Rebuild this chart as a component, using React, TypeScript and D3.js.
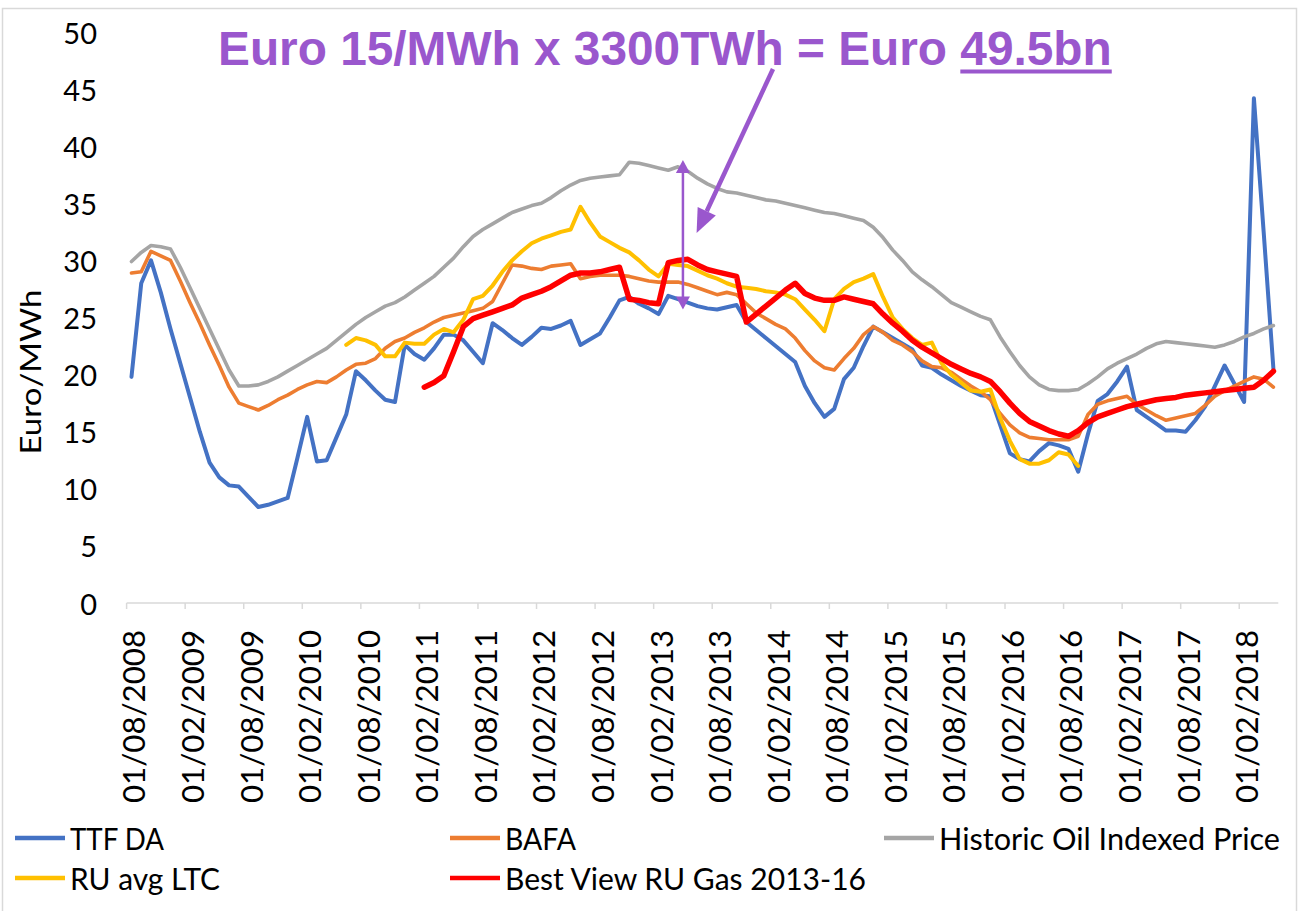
import React, { useEffect, useRef, useState } from 'react';
import * as d3 from 'd3';

// Category axis labels (every 6 months, monthly data starting 01/08/2008)
const tickLabels = [
  '01/08/2008', '01/02/2009', '01/08/2009', '01/02/2010', '01/08/2010',
  '01/02/2011', '01/08/2011', '01/02/2012', '01/08/2012', '01/02/2013',
  '01/08/2013', '01/02/2014', '01/08/2014', '01/02/2015', '01/08/2015',
  '01/02/2016', '01/08/2016', '01/02/2017', '01/08/2017', '01/02/2018',
];
const labelEvery = 6;
const monthCount = 118;
const yTicks = [0, 5, 10, 15, 20, 25, 30, 35, 40, 45, 50];

const ttfDA = [
  19.8, 28.0, 30.0, 27.2, 24.0, 21.0, 18.0, 15.0, 12.3, 11.0,
  10.3, 10.2, 9.3, 8.4, 8.6, 8.9, 9.2, 12.7, 16.3, 12.4,
  12.5, 14.5, 16.5, 20.3, 19.5, 18.6, 17.8, 17.6, 22.6, 21.8,
  21.3, 22.3, 23.5, 23.5, 23.0, 22.0, 21.0, 24.5, 23.9, 23.2,
  22.6, 23.3, 24.1, 24.0, 24.3, 24.7, 22.6, 23.1, 23.6, 25.0,
  26.5, 26.8, 26.2, 25.8, 25.3, 26.9, 26.6, 26.3, 26.0, 25.8,
  25.7, 25.9, 26.1, 24.6, 23.9, 23.2, 22.5, 21.8, 21.1, 19.0,
  17.5, 16.3, 17.0, 19.6, 20.6, 22.5, 24.2, 23.7, 23.2, 22.7,
  22.2, 20.8, 20.6, 20.0, 19.5, 19.0, 18.6, 18.2, 18.1, 15.6,
  13.1, 12.6, 12.4, 13.3, 14.0, 13.8, 13.5, 11.5, 14.8, 17.7,
  18.3, 19.4, 20.7, 16.9, 16.3, 15.7, 15.1, 15.1, 15.0, 16.0,
  17.2, 19.0, 20.8, 19.2, 17.6, 44.2, 32.5, 20.5,
];

const bafa = [
  28.9, 29.0, 30.8, 30.4, 30.0, 28.2, 26.3, 24.5, 22.6, 20.8,
  18.9, 17.5, 17.2, 16.9, 17.3, 17.8, 18.2, 18.7, 19.1, 19.4,
  19.3, 19.8, 20.4, 20.9, 21.0, 21.4, 22.3, 22.9, 23.2, 23.7,
  24.1, 24.6, 25.0, 25.2, 25.4, 25.6, 25.8, 26.4, 28.0, 29.6,
  29.5, 29.3, 29.2, 29.5, 29.6, 29.7, 28.4, 28.6, 28.7, 28.7,
  28.7, 28.6, 28.4, 28.2, 28.1, 28.1, 28.1, 27.9, 27.6, 27.3,
  27.0, 27.2, 27.0, 26.2, 25.4, 24.9, 24.4, 24.0, 23.2, 22.1,
  21.2, 20.6, 20.4, 21.4, 22.3, 23.5, 24.2, 23.7, 23.0, 22.6,
  22.0, 21.2, 20.7, 20.6, 20.2, 19.6, 19.0, 18.5, 17.8, 16.6,
  15.6, 14.9, 14.5, 14.4, 14.3, 14.3, 14.3, 14.6, 16.5, 17.4,
  17.7, 17.9, 18.1, 17.4, 16.9, 16.4, 16.0, 16.2, 16.4, 16.6,
  17.3, 18.1, 18.6, 19.0, 19.4, 19.8, 19.6, 18.9,
];

const oilIndexed = [
  29.9, 30.7, 31.3, 31.2, 31.0, 29.4, 27.6, 25.8, 24.0, 22.2,
  20.4, 19.0, 19.0, 19.1, 19.4, 19.8, 20.3, 20.8, 21.3, 21.8,
  22.3, 23.0, 23.7, 24.4, 25.0, 25.5, 26.0, 26.3, 26.8, 27.4,
  28.0, 28.6, 29.4, 30.2, 31.2, 32.1, 32.7, 33.2, 33.7, 34.2,
  34.5, 34.8, 35.0, 35.5, 36.1, 36.6, 37.0, 37.2, 37.3, 37.4,
  37.5, 38.6, 38.5, 38.3, 38.1, 37.9, 38.2, 37.8, 37.2, 36.7,
  36.3, 36.0, 35.9, 35.7, 35.5, 35.3, 35.2, 35.0, 34.8, 34.6,
  34.4, 34.2, 34.1, 33.9, 33.7, 33.5, 32.9, 32.0, 30.9, 30.0,
  29.0, 28.3, 27.7, 27.0, 26.3, 25.9, 25.5, 25.1, 24.8, 23.3,
  22.0, 20.8, 19.8, 19.1, 18.7, 18.6, 18.6, 18.7, 19.2, 19.8,
  20.5, 21.0, 21.4, 21.8, 22.3, 22.7, 22.9, 22.8, 22.7, 22.6,
  22.5, 22.4, 22.6, 22.9, 23.3, 23.6, 24.0, 24.3,
];

const ruAvgLtcStart = 22;
const ruAvgLtc = [
  22.6, 23.2, 23.0, 22.6, 21.6, 21.6, 22.8, 22.7, 22.7, 23.5,
  24.0, 23.7, 24.8, 26.6, 26.9, 27.8, 29.0, 30.0, 30.8, 31.5,
  31.9, 32.2, 32.5, 32.7, 34.7, 33.3, 32.1, 31.6, 31.1, 30.7,
  30.0, 29.2, 28.6, 29.7, 29.6, 29.5, 29.1, 28.7, 28.4, 28.0,
  27.7, 27.6, 27.5, 27.3, 27.2, 27.0, 26.6, 25.7, 24.8, 23.8,
  26.6, 27.5, 28.1, 28.4, 28.8, 26.8, 25.0, 24.0, 23.2, 22.6,
  22.8, 21.0, 20.0, 19.3, 18.6, 18.5, 18.7, 16.2, 14.2, 12.6,
  12.2, 12.2, 12.5, 13.2, 13.0, 12.0,
];

const bestViewStart = 30;
const bestView = [
  18.9, 19.3, 19.9, 22.0, 24.2, 24.9, 25.2, 25.5, 25.8, 26.1,
  26.7, 27.0, 27.3, 27.7, 28.2, 28.7, 28.9, 28.9, 29.0, 29.2,
  29.4, 26.6, 26.5, 26.3, 26.2, 29.8, 30.0, 30.1, 29.6, 29.2,
  29.0, 28.8, 28.6, 24.6, 25.3, 26.0, 26.7, 27.4, 28.0, 27.1,
  26.7, 26.5, 26.5, 26.8, 26.6, 26.4, 26.2, 25.3, 24.5, 23.8,
  23.0, 22.4, 21.9, 21.4, 20.9, 20.5, 20.1, 19.8, 19.4, 18.5,
  17.5, 16.6, 15.9, 15.5, 15.1, 14.8, 14.6, 15.1, 15.8, 16.3,
  16.6, 16.9, 17.2, 17.4, 17.6, 17.8, 17.9, 18.0, 18.2, 18.3,
  18.4, 18.5, 18.6, 18.7, 18.8, 18.9, 19.5, 20.3,
];

const seriesNames = ['TTF DA', 'BAFA', 'Historic Oil Indexed Price', 'RU avg LTC', 'Best View RU Gas 2013-16'];

const annotationLead = 'Euro 15/MWh x 3300TWh = Euro ';
const annotationUnderlined = '49.5bn';

const W = 1299;
const H = 911;
const PURPLE = '#9A57CD';
const FONT = 'Lato, "Open Sans", sans-serif';

export default function App() {
  const titleRef = useRef<SVGTextElement>(null);
  const [ul, setUl] = useState<{ x1: number; x2: number } | null>(null);

  useEffect(() => {
    const t = titleRef.current;
    if (!t) return;
    const full = t.textContent || '';
    const i = full.indexOf(annotationUnderlined);
    try {
      const s = t.getStartPositionOfChar(i).x;
      const e = t.getEndPositionOfChar(full.length - 1).x;
      setUl({ x1: s, x2: e });
    } catch (err) {
      /* ignore */
    }
  }, []);

  const x = d3.scaleLinear().domain([-0.5, monthCount - 0.5]).range([126.6, 1278.3]);
  const y = d3.scaleLinear().domain([0, 50]).range([603, 32]);

  const series = [
    { name: seriesNames[0], color: '#4472C4', width: 4, start: 0, values: ttfDA },
    { name: seriesNames[1], color: '#ED7D31', width: 3.6, start: 0, values: bafa },
    { name: seriesNames[2], color: '#A5A5A5', width: 3.6, start: 0, values: oilIndexed },
    { name: seriesNames[3], color: '#FFC000', width: 4, start: ruAvgLtcStart, values: ruAvgLtc },
    { name: seriesNames[4], color: '#FF0000', width: 5.5, start: bestViewStart, values: bestView },
  ];

  const lineFor = (start: number) =>
    d3
      .line<number>()
      .x((_, i) => x(start + i))
      .y((d) => y(d));

  const axisY = y(0);
  const tickIdx = tickLabels.map((_, i) => i * labelEvery);

  // legend layout
  const legendItems = [
    { s: 0, lx: 15, ty: 838, len: 94 },
    { s: 1, lx: 450, ty: 838, len: 71 },
    { s: 2, lx: 884, ty: 838, len: 341 },
    { s: 3, lx: 15, ty: 878, len: 150 },
    { s: 4, lx: 450, ty: 878, len: 361 },
  ];

  // annotation arrows tied to the data scales
  const vArrowX = x(56.5);
  const vTop = y(38.8);
  const vBot = y(25.7);
  const ah = 13;
  const aw = 7;

  const dStart = { x: 773, y: 69 };
  const dTip = { x: x(57.9), y: y(32.4) };
  const ang = Math.atan2(dTip.y - dStart.y, dTip.x - dStart.x);
  const headLen = 24;
  const headHalf = 10;
  const bx = dTip.x - headLen * Math.cos(ang);
  const by = dTip.y - headLen * Math.sin(ang);
  const px = -Math.sin(ang);
  const py = Math.cos(ang);

  return (
    <svg
      width={W}
      height={H}
      viewBox={`0 0 ${W} ${H}`}
      style={{ position: 'absolute', left: 0, top: 0, background: '#fff' }}
      fontFamily={FONT}
    >
      <rect x={0} y={0} width={W} height={H} fill="#fff" />
      <rect x={2.5} y={8.5} width={1294} height={930} fill="#fff" stroke="#D9D9D9" strokeWidth={1.5} />

      {/* y tick labels */}
      {yTicks.map((t) => (
        <text key={t} x={97} y={y(t)} textAnchor="end" dominantBaseline="central" fontSize={29} fill="#000">
          {t}
        </text>
      ))}

      {/* y axis title */}
      <text
        transform={`translate(29, 372) rotate(-90)`}
        textAnchor="middle"
        dominantBaseline="central"
        fontSize={29}
        fill="#000"
        textLength={165}
        lengthAdjust="spacingAndGlyphs"
      >
        Euro/MWh
      </text>

      {/* x axis */}
      <line x1={x(-0.5)} x2={x(monthCount - 0.5)} y1={axisY} y2={axisY} stroke="#D9D9D9" strokeWidth={1.5} />
      {tickIdx.map((i) => (
        <line key={i} x1={x(i - 0.5)} x2={x(i - 0.5)} y1={axisY} y2={axisY + 6} stroke="#D9D9D9" strokeWidth={1.5} />
      ))}
      {tickLabels.map((lab, k) => {
        const cx = x(tickIdx[k]) + 2;
        return (
          <text
            key={lab}
            transform={`translate(${cx}, 630) rotate(-90)`}
            textAnchor="end"
            dominantBaseline="central"
            fontSize={30}
            fill="#000"
            textLength={173}
            lengthAdjust="spacingAndGlyphs"
          >
            {lab}
          </text>
        );
      })}

      {/* series lines */}
      {series.map((s) => (
        <path
          key={s.name}
          d={lineFor(s.start)(s.values) || ''}
          fill="none"
          stroke={s.color}
          strokeWidth={s.width}
          strokeLinejoin="round"
          strokeLinecap="round"
        />
      ))}

      {/* legend */}
      {legendItems.map((it) => {
        const s = series[it.s];
        return (
          <g key={s.name}>
            <line x1={it.lx} x2={it.lx + 50} y1={it.ty} y2={it.ty} stroke={s.color} strokeWidth={4.5} />
            <text
              x={it.lx + 55}
              y={it.ty}
              dominantBaseline="central"
              fontSize={31}
              fill="#000"
              textLength={it.len}
              lengthAdjust="spacingAndGlyphs"
            >
              {s.name}
            </text>
          </g>
        );
      })}

      {/* vertical double arrow */}
      <line x1={vArrowX} x2={vArrowX} y1={vTop + ah - 1} y2={vBot - ah + 1} stroke={PURPLE} strokeWidth={2.5} />
      <path d={`M${vArrowX},${vTop} L${vArrowX - aw},${vTop + ah} L${vArrowX + aw},${vTop + ah} Z`} fill={PURPLE} />
      <path d={`M${vArrowX},${vBot} L${vArrowX - aw},${vBot - ah} L${vArrowX + aw},${vBot - ah} Z`} fill={PURPLE} />

      {/* diagonal arrow */}
      <line x1={dStart.x} y1={dStart.y} x2={bx} y2={by} stroke={PURPLE} strokeWidth={4.5} />
      <path
        d={`M${dTip.x},${dTip.y} L${bx + px * headHalf},${by + py * headHalf} L${bx - px * headHalf},${by - py * headHalf} Z`}
        fill={PURPLE}
      />

      {/* annotation title */}
      <text
        ref={titleRef}
        x={218}
        y={65}
        fontFamily='"Liberation Sans", Arial, sans-serif'
        fontWeight="bold"
        fontSize={47.8}
        fill={PURPLE}
        style={{ whiteSpace: 'pre' }}
      >
        <tspan>{annotationLead}</tspan>
        <tspan>{annotationUnderlined}</tspan>
      </text>
      {ul && <rect x={ul.x1} y={69.5} width={ul.x2 - ul.x1} height={4} fill={PURPLE} />}
    </svg>
  );
}
